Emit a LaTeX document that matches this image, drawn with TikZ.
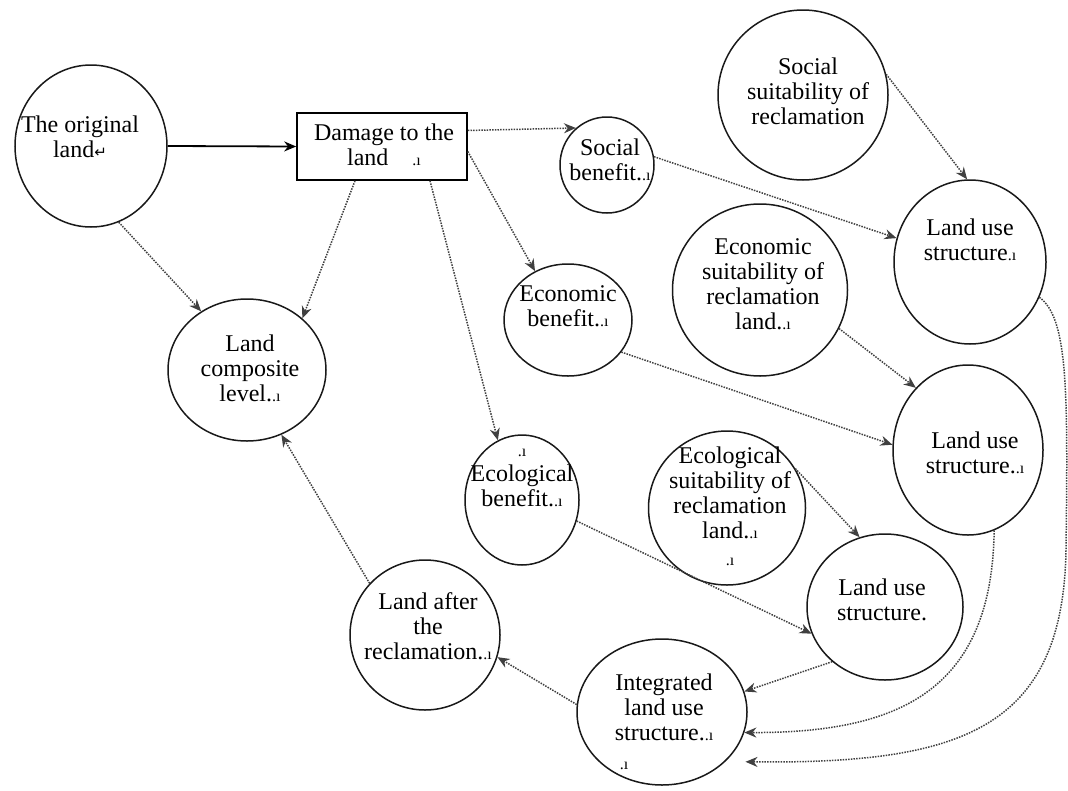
\documentclass[tikz,border=0pt]{standalone}
\usepackage{fontspec}
\setmainfont{Liberation Serif}
\newfontfamily\symfont{DejaVu Sans}
\usetikzlibrary{shapes.geometric,arrows.meta}
\newcommand{\pmk}{{\fontsize{16}{16}\selectfont .ı}}
\begin{document}
\begin{tikzpicture}[x=1pt,y=-1pt,
  circ/.style={draw=black!90,line width=1.5pt,ellipse,inner sep=0pt},
  boxn/.style={draw=black,line width=1.6pt,rectangle,inner sep=0pt,minimum width=170,minimum height=67},
  txt/.style={font=\fontsize{24}{25}\selectfont,align=center,inner sep=0pt},
  dots/.style={draw=black!75,dash pattern=on 1.5pt off 1.2pt,line width=1.5pt,-{Stealth[length=12pt,width=10pt]}},
  solidarr/.style={draw=black,line width=1.8pt,-{Stealth[length=12pt,width=10pt]}}]
\useasboundingbox (0,0) rectangle (1068,790);
% nodes
\node[circ,minimum width=152,minimum height=162] (orig) at (91,146) {};
\node[txt] at (80,137) {The original\\land{\symfont\fontsize{15}{15}\selectfont↵}};
\node[boxn] (dam) at (382,146.5) {};
\node[txt] at (384,145) {Damage to the\\land\quad\pmk};
\node[circ,minimum width=94,minimum height=96] (sb) at (607,165) {};
\node[txt] at (610,160) {Social\\benefit.\pmk};
\node[circ,minimum width=170,minimum height=170] (ss) at (803,95) {};
\node[txt] at (808,91) {Social\\suitability of\\reclamation};
\node[circ,minimum width=152,minimum height=164] (lu1) at (970,262) {};
\node[txt] at (970,240) {Land use\\structure\pmk};
\node[circ,minimum width=175,minimum height=172] (es) at (760,290) {};
\node[txt] at (763,284) {Economic\\suitability of\\reclamation\\land.\pmk};
\node[circ,minimum width=128,minimum height=112] (eb) at (568,320) {};
\node[txt] at (568,306) {Economic\\benefit.\pmk};
\node[circ,minimum width=150,minimum height=170] (lu2) at (968,450) {};
\node[txt] at (975,453) {Land use\\structure.\pmk};
\node[circ,minimum width=158,minimum height=142] (comp) at (247,370) {};
\node[txt] at (250,368) {Land\\composite\\level.\pmk};
\node[circ,minimum width=114,minimum height=130] (ebn) at (522,500) {};
\node[txt] at (522,478) {\pmk\\Ecological\\benefit.\pmk};
\node[circ,minimum width=157,minimum height=154] (ecs) at (727,508) {};
\node[txt] at (730,506) {Ecological\\suitability of\\reclamation\\land.\pmk\\[2pt]\pmk};
\node[circ,minimum width=156,minimum height=146] (lu3) at (885,607) {};
\node[txt] at (882,600) {Land use\\structure.};
\node[circ,minimum width=150,minimum height=150] (after) at (425,635) {};
\node[txt] at (428,626) {Land after\\the\\reclamation.\pmk};
\node[circ,minimum width=170,minimum height=146] (integ) at (662,712) {};
\node[txt] at (664,722) {Integrated\\land use\\structure.\pmk\\[4pt]\hspace*{-80pt}\pmk};
% connectors
\draw[solidarr] (orig.east) -- (dam.west);
\draw[dots] (orig.-70) -- (comp.128);
\draw[dots] ([xshift=-27]dam.south) -- (comp.43);
\draw[dots] ([yshift=16]dam.east) -- (sb.130);
\draw[dots] ([yshift=-5]dam.east) -- (eb.124);
\draw[dots] ([xshift=48]dam.south) -- (ebn.112);
\draw[dots] (sb.10) -- (lu1.162);
\draw[dots] (ss.14) -- (lu1.92);
\draw[dots] (es.-26) -- (lu2.130);
\draw[dots] (eb.-31) -- (lu2.176);
\draw[dots] (ecs.30) -- (lu3.110);
\draw[dots] (ebn.-21) -- (lu3.200);
\draw[dots] (lu3.226) -- (integ.14);
\draw[dots] (lu2.-72) .. controls (992,690) and (900,733) .. (integ.-14);
\draw[dots,shorten >=20pt] (lu1.-27) .. controls (1068,318) and (1068,390) .. (1066,550)
   .. controls (1063,730) and (960,764) .. (integ.-38);
\draw[dots] (integ.175) -- (after.-17);
\draw[dots] (after.137) -- (comp.-62);
\end{tikzpicture}
\end{document}
